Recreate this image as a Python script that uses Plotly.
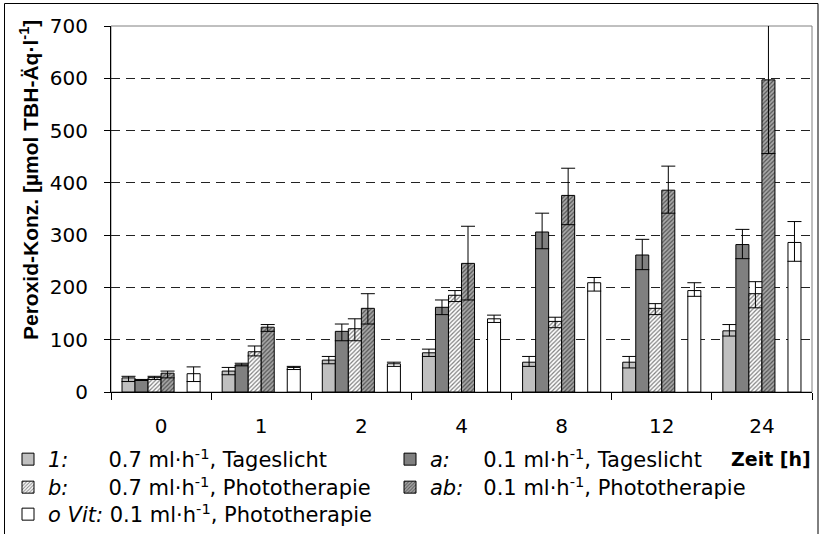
import plotly.graph_objects as go

# ---------------- data ----------------
times = ["0", "1", "2", "4", "8", "12", "24"]

s1_vals = [27, 40, 61, 75, 57, 57, 117]
s1_up = [3, 7, 7, 7, 11, 11, 12]
s1_dn = [7, 7, 7, 7, 8, 11, 10]

sa_vals = [23, 52, 116, 162, 306, 262, 282]
sa_up = [1, 3, 14, 14, 36, 30, 29]
sa_dn = [1, 2, 18, 14, 32, 28, 27]

sb_vals = [28, 77, 121, 185, 135, 160, 188]
sb_up = [2, 11, 19, 9, 8, 9, 23]
sb_dn = [4, 8, 23, 12, 12, 12, 27]

sab_vals = [36, 124, 160, 246, 376, 386, 597]
sab_up = [4, 5, 28, 71, 52, 46, 110]
sab_dn = [9, 8, 30, 70, 56, 44, 141]

so_vals = [35, 47, 54, 140, 209, 194, 286]
so_up = [13, 2, 3, 7, 10, 15, 40]
so_dn = [15, 4, 5, 7, 16, 11, 36]

NB = "\u00a0"
legend_names = [
    "<i>1:</i>" + NB * 6 + "0.7 ml·h<sup>-1</sup>, Tageslicht",
    "<i>a:</i>" + NB * 5 + "0.1 ml·h<sup>-1</sup>, Tageslicht",
    "<i>b:</i>" + NB * 6 + "0.7 ml·h<sup>-1</sup>, Phototherapie",
    "<i>ab:</i>" + NB * 3 + "0.1 ml·h<sup>-1</sup>, Phototherapie",
    "<i>o Vit:</i>" + NB + "0.1 ml·h<sup>-1</sup>, Phototherapie",
]

FONT = "DejaVu Sans, Verdana, sans-serif"
TFONT = "Liberation Sans, Arial, sans-serif"
LFS = 21
W = 0.13
offsets = [-0.39, -0.26, -0.13, 0.0, 0.26]
legend_ids = ["legend", "legend2", "legend3", "legend4", "legend5"]

series = [
    (s1_vals, s1_up, s1_dn, dict(color="#c0c0c0")),
    (sa_vals, sa_up, sa_dn, dict(color="#808080")),
    (sb_vals, sb_up, sb_dn, dict(color="#ffffff",
                                 pattern=dict(shape="/", fgcolor="#000000", bgcolor="#ffffff",
                                              size=3, solidity=0.4))),
    (sab_vals, sab_up, sab_dn, dict(color="#a0a0a0",
                                    pattern=dict(shape="/", fgcolor="#000000", bgcolor="#a8a8a8",
                                                 size=3, solidity=0.4))),
    (so_vals, so_up, so_dn, dict(color="#ffffff")),
]

fig = go.Figure()
for (vals, up, dn, mk), name, off, lg in zip(series, legend_names, offsets, legend_ids):
    marker = dict(mk)
    marker["line"] = dict(color="#000000", width=1)
    fig.add_trace(go.Bar(
        x=times, y=vals, name=name, width=W, offset=off,
        marker=marker, legend=lg,
        error_y=dict(type="data", symmetric=False, array=up, arrayminus=dn,
                     color="#000000", thickness=1, width=7),
    ))

# plot area geometry
L, R, T, B = 111, 7, 26, 142
WIDTH, HEIGHT = 819, 534
pw = WIDTH - L - R
ph = HEIGHT - T - B

def px_x(px):
    return (px - L) / pw

def px_y(py):
    return (HEIGHT - B - py) / ph

def leg(xpx, ypx):
    return dict(x=px_x(xpx), xanchor="left", y=px_y(ypx), yanchor="top",
                orientation="v", font=dict(family=FONT, size=LFS, color="#000000"),
                bgcolor="rgba(0,0,0,0)", borderwidth=0, itemclick=False)

COL1, COL2 = 8, 390
ROW1, ROW2, ROW3 = 439, 467, 494

fig.update_layout(
    width=WIDTH, height=HEIGHT,
    margin=dict(l=L, r=R, t=T, b=B, autoexpand=False),
    paper_bgcolor="white", plot_bgcolor="white",
    barmode="overlay",
    font=dict(family=FONT, size=20, color="#000000"),
    showlegend=True,
    legend=leg(COL1, ROW1),
    legend2=leg(COL2, ROW1),
    legend3=leg(COL1, ROW2),
    legend4=leg(COL2, ROW2),
    legend5=leg(COL1, ROW3),
    xaxis=dict(
        type="category", range=[-0.5, 6.5],
        showline=True, linecolor="#000000", linewidth=1,
        ticks="outside", ticklen=7, tickcolor="#000000", tickwidth=1,
        tickson="boundaries", showgrid=False, zeroline=False,
        tickfont=dict(family=FONT, size=20),
        ticklabelstandoff=16,
    ),
    yaxis=dict(
        range=[0, 700], dtick=100, tick0=0,
        showline=True, linecolor="#000000", linewidth=1,
        ticks="outside", ticklen=6, tickcolor="#000000", tickwidth=1,
        showgrid=True, gridcolor="#222222", gridwidth=1, griddash="9px,6px",
        zeroline=False,
        tickfont=dict(family=FONT, size=20),
        ticklabelstandoff=12,
    ),
    shapes=[
        dict(type="rect", xref="paper", yref="paper", x0=0, x1=1, y0=0, y1=1,
             line=dict(color="#808080", width=1), layer="below"),
        dict(type="rect", xref="paper", yref="paper",
             x0=px_x(4.5), x1=px_x(818), y0=px_y(545), y1=px_y(3.5),
             line=dict(color="#000000", width=1), layer="below"),
    ],
    annotations=[
        dict(text="<b>Peroxid-Konz. [µmol TBH-Äq·l<sup>-1</sup>]</b>",
             xref="paper", yref="paper", x=px_x(29), y=px_y(180),
             xanchor="center", yanchor="middle", textangle=-90, showarrow=False,
             font=dict(family=TFONT, size=21, color="#000000")),
        dict(text="<b>Zeit [h]</b>", xref="paper", yref="paper",
             x=px_x(813), y=px_y(459), xanchor="right", yanchor="middle",
             showarrow=False, font=dict(family=FONT, size=19, color="#000000")),
    ],
)

fig.write_html("out.html")
